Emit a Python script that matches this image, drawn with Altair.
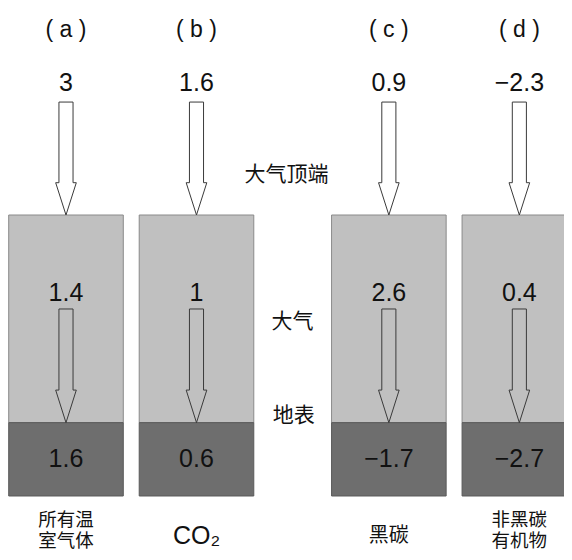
import altair as alt
import pandas as pd

# ---- data ----
panel_tags = ["( a )", "( b )", "( c )", "( d )"]
forcing_names = ["所有温\n室气体", "CO₂", "黑碳", "非黑碳\n有机物"]
toa_values = [3, 1.6, 0.9, -2.3]        # top of atmosphere
atm_values = [1.4, 1, 2.6, 0.4]         # atmosphere
sfc_values = [1.6, 0.6, -1.7, -2.7]     # surface
level_names = ["大气顶端", "大气", "地表"]

# ---- layout (schematic units) ----
panel_x = [0.0, 1.0, 2.474, 3.474]      # panel centres
level_x = [1.689, 1.736, 1.746]         # centres of middle labels
half_box = 0.439
shaft_hw, head_hw = 0.054, 0.079
Y_BOTTOM, Y_SURF, Y_TOA = 0.0, 0.261, 1.0
TOP_ARROW = (1.402, 1.115)              # shaft top, head base
MID_ARROW = (0.6655, 0.377)
Y_TAG, Y_TOA_VAL, Y_ATM_VAL, Y_SFC_VAL = 1.660, 1.470, 0.722, 0.130
Y_NAME_1, Y_NAME_2 = -0.144, -0.0854    # single-line / first line of two-line names
level_y = [1.141, 0.620, 0.285]

W, H = 556, 544
xs = alt.Scale(domain=[-0.4444, 3.8161], nice=False, zero=False)
ys = alt.Scale(domain=[-0.1993, 1.7367], nice=False, zero=False)
X = lambda f: alt.X(f, type="quantitative", scale=xs, axis=None)
Y = lambda f: alt.Y(f, type="quantitative", scale=ys, axis=None)


def fmt(v):
    return f"{v:g}".replace("-", "−")


panels = pd.DataFrame({
    "x": panel_x,
    "x0": [p - half_box for p in panel_x],
    "x1": [p + half_box for p in panel_x],
    "tag": panel_tags,
    "name": forcing_names,
    "toa": [fmt(v) for v in toa_values],
    "atm": [fmt(v) for v in atm_values],
    "sfc": [fmt(v) for v in sfc_values],
})
panels["yb"], panels["ys"], panels["yt"] = Y_BOTTOM, Y_SURF, Y_TOA
panels["kind"] = ["latin" if n.startswith("CO") else ("multi" if "\n" in n else "single")
                  for n in forcing_names]

rows = []
for i, cx in enumerate(panel_x):
    for kind, (top, base), tip in (("top", TOP_ARROW, Y_TOA), ("mid", MID_ARROW, Y_SURF)):
        pts = [(cx - shaft_hw, top), (cx + shaft_hw, top), (cx + shaft_hw, base),
               (cx + head_hw, base), (cx, tip), (cx - head_hw, base),
               (cx - shaft_hw, base), (cx - shaft_hw, top)]
        for k, (px, py) in enumerate(pts):
            rows.append({"id": f"{i}-{kind}", "o": k, "x": px, "y": py})
arrows = pd.DataFrame(rows)

levels = pd.DataFrame({"x": level_x, "y": level_y, "t": level_names})

base = alt.Chart(panels)

atm_box = base.mark_rect(fill="#c0c0c0", stroke="#8a8a8a", strokeWidth=1).encode(
    x=X("x0"), x2="x1", y=Y("ys"), y2="yt")
sfc_box = base.mark_rect(fill="#6e6e6e", stroke="#5a5a5a", strokeWidth=1).encode(
    x=X("x0"), x2="x1", y=Y("yb"), y2="ys")

arrow_lines = alt.Chart(arrows).mark_line(color="#3a3a3a", strokeWidth=1).encode(
    x=X("x"), y=Y("y"), order="o:Q", detail="id:N")

num = dict(font="Liberation Sans", fontSize=25, color="#111", baseline="middle", align="center")
cjk = dict(font="Noto Sans CJK SC", fontSize=21, color="#111", baseline="middle", align="center")

tag_text = base.mark_text(font="Liberation Sans", fontSize=23, color="#111",
                          baseline="middle", align="center").transform_calculate(
    yy=str(Y_TAG)).encode(x=X("x"), y=Y("yy"), text="tag:N")
toa_text = base.mark_text(**num).transform_calculate(yy=str(Y_TOA_VAL)).encode(
    x=X("x"), y=Y("yy"), text="toa:N")
atm_text = base.mark_text(**num).transform_calculate(yy=str(Y_ATM_VAL)).encode(
    x=X("x"), y=Y("yy"), text="atm:N")
sfc_text = base.mark_text(**num).transform_calculate(yy=str(Y_SFC_VAL)).encode(
    x=X("x"), y=Y("yy"), text="sfc:N")
name_multi = base.transform_filter("datum.kind == 'multi'").mark_text(
    lineBreak="\n", lineHeight=21, font="Noto Sans CJK SC", fontSize=18.5, color="#111",
    baseline="middle", align="center").transform_calculate(
    yy=str(Y_NAME_2)).encode(x=X("x"), y=Y("yy"), text="name:N")
name_single = base.transform_filter("datum.kind == 'single'").mark_text(
    font="Noto Sans CJK SC", fontSize=20, color="#111",
    baseline="middle", align="center").transform_calculate(
    yy=str(Y_NAME_1)).encode(x=X("x"), y=Y("yy"), text="name:N")
name_latin = base.transform_filter("datum.kind == 'latin'").mark_text(
    font="Liberation Sans", fontSize=25, color="#111",
    baseline="middle", align="center").transform_calculate(
    yy=str(Y_NAME_1)).encode(x=X("x"), y=Y("yy"), text="name:N")
level_text = alt.Chart(levels).mark_text(**cjk).encode(x=X("x"), y=Y("y"), text="t:N")

chart = alt.layer(
    atm_box, sfc_box, arrow_lines, tag_text, toa_text, atm_text, sfc_text,
    name_multi, name_single, name_latin, level_text
).properties(width=W, height=H, padding=0, autosize="none", background="white"
).configure_view(stroke=None)

chart.save("out.html", embed_options={"renderer": "svg", "actions": False})
